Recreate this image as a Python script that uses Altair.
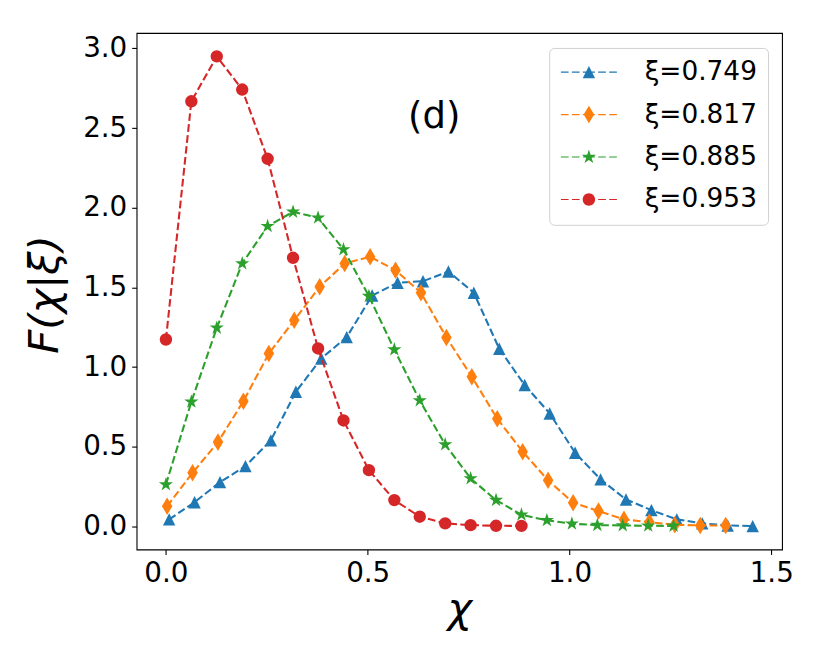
import altair as alt
import pandas as pd

series = ["ξ=0.749", "ξ=0.817", "ξ=0.885", "ξ=0.953"]
colors = ["#1f77b4", "#ff7f0e", "#2ca02c", "#d62728"]

x_749 = [0.008, 0.071, 0.134, 0.197, 0.260, 0.322, 0.385, 0.448, 0.511, 0.574, 0.637, 0.700,
         0.763, 0.826, 0.889, 0.951, 1.014, 1.077, 1.140, 1.203, 1.266, 1.329, 1.392, 1.454]
y_749 = [0.044, 0.152, 0.278, 0.378, 0.540, 0.845, 1.054, 1.188, 1.449, 1.529, 1.539, 1.600,
         1.466, 1.115, 0.887, 0.709, 0.462, 0.295, 0.169, 0.102, 0.044, 0.019, 0.006, 0.002]

x_817 = [0.003, 0.066, 0.129, 0.192, 0.255, 0.318, 0.381, 0.443, 0.506, 0.569, 0.632, 0.695,
         0.758, 0.821, 0.884, 0.947, 1.009, 1.072, 1.135, 1.198, 1.261, 1.324, 1.387]
y_817 = [0.127, 0.337, 0.529, 0.786, 1.085, 1.294, 1.504, 1.650, 1.692, 1.608, 1.466, 1.186,
         0.939, 0.676, 0.469, 0.289, 0.149, 0.096, 0.044, 0.027, 0.010, 0.006, 0.005]

x_885 = [0.000, 0.063, 0.126, 0.189, 0.252, 0.315, 0.377, 0.440, 0.503, 0.566, 0.629, 0.692,
         0.755, 0.818, 0.881, 0.944, 1.006, 1.069, 1.132, 1.195, 1.258]
y_885 = [0.263, 0.782, 1.246, 1.650, 1.884, 1.974, 1.937, 1.738, 1.445, 1.110, 0.790, 0.514,
         0.301, 0.165, 0.073, 0.038, 0.017, 0.008, 0.006, 0.004, 0.003]

x_953 = [0.000, 0.063, 0.126, 0.189, 0.252, 0.315, 0.377, 0.440, 0.503, 0.566, 0.629, 0.692,
         0.755, 0.818, 0.881]
y_953 = [1.173, 2.668, 2.950, 2.742, 2.307, 1.686, 1.117, 0.665, 0.353, 0.165, 0.061, 0.019,
         0.008, 0.004, 0.003]

x_ticks = [0.0, 0.5, 1.0, 1.5]
y_ticks = [0.0, 0.5, 1.0, 1.5, 2.0, 2.5, 3.0]
panel_label = "(d)"
panel_x = [0.6]
panel_y = [2.5]

xs = [x_749, x_817, x_885, x_953]
ys = [y_749, y_817, y_885, y_953]

rows = []
for s, xv, yv in zip(series, xs, ys):
    for i, (a, b) in enumerate(zip(xv, yv)):
        rows.append({"series": s, "idx": i, "chi": a, "F": b})
df = pd.DataFrame(rows)

# marker shapes (unit coords, scaled by sqrt(size)/2)
tri = "M0,-1L1,1L-1,1Z"
dia = "M0,-1.414L0.849,0L0,1.414L-0.849,0Z"
star = ("M0,-1.2L0.269,-0.371L1.141,-0.371L0.436,0.142L0.706,0.971L0,0.458"
        "L-0.706,0.971L-0.436,0.142L-1.141,-0.371L-0.269,-0.371Z")
circ = "M1,0A1,1 0 1,1 -1,0A1,1 0 1,1 1,0Z"
plot_shapes = [tri, dia, star, "circle"]
marker_paths = [tri, dia, star, circ]

dashes = [(-4.516, -3.274), (-2.742, -1.5), (-0.968, 0.968), (1.5, 2.742), (3.274, 4.516)]
hw = 0.09
dash_path = "".join(
    f"M{a},{-hw}L{b},{-hw}L{b},{hw}L{a},{hw}Z" for a, b in dashes
)
legend_paths = [dash_path + m for m in marker_paths]

xdom = [-0.0727, 1.5267]
ydom = [-0.145, 3.097]

X = alt.X("chi:Q", scale=alt.Scale(domain=xdom, nice=False, zero=False),
          axis=alt.Axis(values=x_ticks, format=".1f", title="χ", titleY=72,
                        titleBaseline="alphabetic", labelFlush=False))
Y = alt.Y("F:Q", scale=alt.Scale(domain=ydom, nice=False, zero=False),
          axis=alt.Axis(values=y_ticks, format=".1f", title="F(χ|ξ)", titleX=-78.7,
                        titleY=261.3, titleAngle=270, titleBaseline="alphabetic",
                        titleAlign="center"))

layers = []
for s, c, shp in zip(series, colors, plot_shapes):
    base = alt.Chart(df).transform_filter(alt.datum.series == s)
    line = base.mark_line(color=c, strokeDash=[7.7, 3.3], strokeWidth=2.08).encode(
        x=X, y=Y, order="idx:Q")
    pts = base.mark_point(shape=shp, filled=True, color=c, size=154, opacity=1,
                          strokeWidth=0).encode(x=X, y=Y)
    layers += [line, pts]

legend_layer = alt.Chart(df).transform_filter("false").mark_point(
    filled=True, opacity=1, size=154, strokeWidth=0
).encode(
    x=X, y=Y,
    color=alt.Color("series:N", scale=alt.Scale(domain=series, range=colors),
                    legend=alt.Legend(title=None)),
    shape=alt.Shape("series:N", scale=alt.Scale(domain=series, range=legend_paths),
                    legend=alt.Legend(title=None)),
)

text_df = pd.DataFrame({"chi": panel_x, "F": panel_y, "t": [panel_label]})
text_layer = alt.Chart(text_df).mark_text(
    align="left", baseline="alphabetic", fontSize=37, font="DejaVu Sans", color="black"
).encode(x=X, y=Y, text="t:N")

chart = alt.layer(*layers, legend_layer, text_layer).properties(
    width=646, height=517,
    padding={"left": 128.7, "top": 24.7, "right": 40, "bottom": 100},
    autosize=alt.AutoSizeParams(type="none"),
).configure_view(
    stroke="black", strokeWidth=1.1
).configure_axis(
    domain=False, grid=False, tickColor="black", tickWidth=1.1, tickSize=4.9,
    labelFont="DejaVu Sans", labelFontSize=27.8, labelColor="black", labelPadding=4.9,
    titleFont="DejaVu Sans", titleFontSize=41.7, titleFontStyle="italic",
    titleFontWeight="normal", titleColor="black",
).configure_legend(
    orient="top-right", offset=14.5, padding=11, fillColor="white",
    strokeColor="#d0d0d0", cornerRadius=5, strokeWidth=1,
    labelFont="DejaVu Sans", labelFontSize=26.4, labelColor="black",
    labelOffset=42.6, symbolOffset=15.5, rowPadding=15.5, symbolSize=154,
    symbolStrokeWidth=0, labelLimit=400,
)

chart.save("out.html", embed_options={"renderer": "svg", "actions": False})
